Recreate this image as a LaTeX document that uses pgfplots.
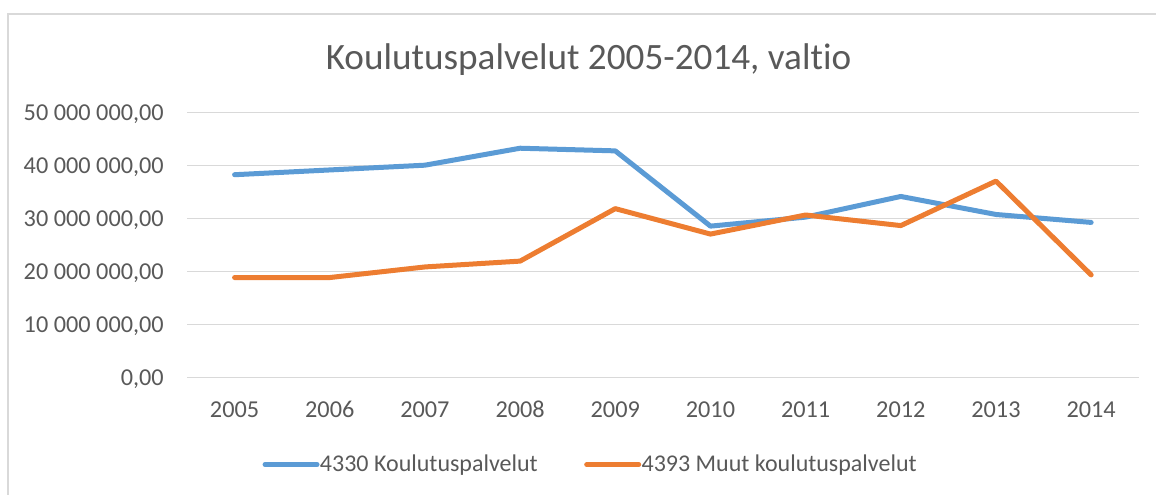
\documentclass[border=0pt]{standalone}
\usepackage{pgfplots}
\pgfplotsset{compat=1.18}
\usepackage{fontspec}
\setmainfont{Carlito}[Ligatures=NoCommon]
\definecolor{cblue}{HTML}{5B9BD5}
\definecolor{corange}{HTML}{ED7D31}
\definecolor{cgrid}{HTML}{D9D9D9}
\definecolor{ctext}{HTML}{595959}
\begin{document}
\begin{tikzpicture}[x=0.75pt,y=-0.75pt]
\useasboundingbox (0,0) rectangle (1156,495);
\draw[cgrid, line width=1pt] (1156,14) -- (8,14) -- (8,495);
\node[text=ctext, anchor=base, inner sep=0pt, font=\fontsize{27.9pt}{32pt}\selectfont] at (588.5,70) {Koulutuspalvelut 2005-2014, valtio};
\begin{axis}[
  at={(140.25pt,-283.28pt)}, anchor=south west,
  scale only axis, width=713.8pt, height=198.75pt,
  xmin=-0.5, xmax=9.5, ymin=0, ymax=50000000,
  scaled y ticks=false,
  axis line style={draw=none},
  tick style={draw=none},
  major tick length=0pt,
  xtick={0,1,2,3,4,5,6,7,8,9},
  xticklabels={2005,2006,2007,2008,2009,2010,2011,2012,2013,2014},
  ytick={0,10000000,20000000,30000000,40000000,50000000},
  yticklabels={{0,00},{10 000 000,00},{20 000 000,00},{30 000 000,00},{40 000 000,00},{50 000 000,00}},
  ymajorgrids, grid style={cgrid, line width=1pt},
  tick label style={font=\fontsize{18.2pt}{21pt}\selectfont, text=ctext, inner sep=0pt},
  yticklabel style={anchor=base east, xshift=-17.25pt, yshift=-5.7pt},
  xticklabel style={anchor=base, yshift=-30pt},
  legend columns=2,
  legend style={draw=none, fill=none, inner sep=0pt, at={(0.0791,-0.328)}, anchor=west,
    font=\fontsize{18pt}{21pt}\selectfont, text=ctext,
    nodes={inner sep=0pt},
    /tikz/every odd column/.append style={column sep=0.3pt},
    /tikz/every even column/.append style={column sep=34.8pt}},
  legend image code/.code={\draw[#1, line cap=round] (0pt,0pt) -- (39pt,0pt);},
]
\addplot[cblue, line width=3.75pt, line join=round, line cap=round] coordinates {
(0,38300000) (1,39200000) (2,40100000) (3,43300000) (4,42800000)
(5,28600000) (6,30300000) (7,34200000) (8,30800000) (9,29300000)};
\addlegendentry{4330 Koulutuspalvelut}
\addplot[corange, line width=3.75pt, line join=round, line cap=round] coordinates {
(0,18900000) (1,18900000) (2,20900000) (3,22000000) (4,31900000)
(5,27100000) (6,30700000) (7,28700000) (8,37100000) (9,19400000)};
\addlegendentry{4393 Muut koulutuspalvelut}
\end{axis}
\end{tikzpicture}
\end{document}
